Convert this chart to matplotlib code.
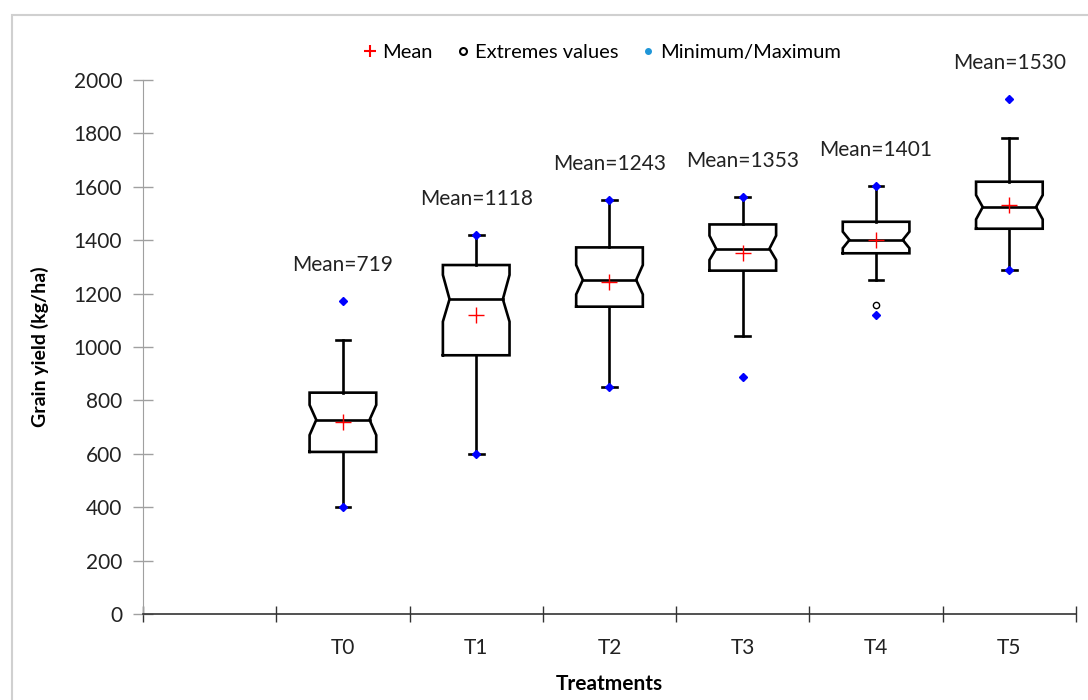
import matplotlib.pyplot as plt
from matplotlib.lines import Line2D
from matplotlib.patches import Rectangle

plt.rcParams['font.family'] = ['Lato', 'DejaVu Sans']

# Valeurs (kg/ha)
treatments = ['T0', 'T1', 'T2', 'T3', 'T4', 'T5']
means = [719, 1118, 1243, 1353, 1401, 1530]
q1 = [607, 969, 1151, 1286, 1351, 1443]
medians = [727, 1179, 1251, 1368, 1401, 1524]
q3 = [829, 1307, 1373, 1459, 1469, 1619]
notch_lo = [670, 1095, 1197, 1326, 1370, 1478]
notch_hi = [783, 1270, 1307, 1417, 1432, 1569]
whisk_lo = [400, 600, 850, 1040, 1251, 1288]
whisk_hi = [1026, 1420, 1550, 1560, 1603, 1784]
minimum = [400, 600, 850, 889, 1120, 1288]
maximum = [1172, 1420, 1550, 1560, 1603, 1928]
extreme_idx = [4]
extreme_val = [1157]

fig = plt.figure(figsize=(10.88, 7), dpi=100)
ax = fig.add_axes([0.1314, 0.1229, 0.8576, 0.7628])

# cadre gris autour de la figure
fig.patches.append(Rectangle((12 / 1088, -0.1), 1.2, 1.1 - 15 / 700, transform=fig.transFigure,
                             fill=False, edgecolor='#d0d0d0', linewidth=1.5))

half_w = 0.25   # demi-largeur de la boite
notch_w = 0.2   # demi-largeur au niveau de la mediane
cap_w = 0.055
lw = 1.9

for i, name in enumerate(treatments):
    x = i + 1.5
    xs = [x - half_w, x + half_w, x + half_w, x + notch_w, x + half_w, x + half_w,
          x - half_w, x - half_w, x - notch_w, x - half_w, x - half_w]
    ys = [q1[i], q1[i], notch_lo[i], medians[i], notch_hi[i], q3[i],
          q3[i], notch_hi[i], medians[i], notch_lo[i], q1[i]]
    ax.plot(xs, ys, color='black', lw=lw, solid_joinstyle='miter', zorder=3)
    ax.plot([x - notch_w, x + notch_w], [medians[i], medians[i]], color='black', lw=lw, zorder=3)
    # moustaches
    ax.plot([x, x], [q3[i], whisk_hi[i]], color='black', lw=lw, zorder=2)
    ax.plot([x, x], [q1[i], whisk_lo[i]], color='black', lw=lw, zorder=2)
    ax.plot([x - cap_w, x + cap_w], [whisk_hi[i], whisk_hi[i]], color='black', lw=lw, zorder=2)
    ax.plot([x - cap_w, x + cap_w], [whisk_lo[i], whisk_lo[i]], color='black', lw=lw, zorder=2)
    # moyenne
    ax.plot(x, means[i], marker='+', color='red', markersize=12, mew=1.0, zorder=4)
    # min / max
    ax.plot([x, x], [minimum[i], maximum[i]], linestyle='none', marker='D', color='blue',
            markersize=4, zorder=5)
    ax.annotate(f'Mean={means[i]}', (x, maximum[i]), xytext=(0, 26), textcoords='offset points',
                ha='center', va='center', fontsize=15, color='#222222')

for k, v in zip(extreme_idx, extreme_val):
    ax.plot(k + 1.5, v, marker='o', mfc='white', mec='black', markersize=4.5, mew=1.0, zorder=5)

ax.set_xlim(0, 7)
ax.set_ylim(0, 2000)
ax.set_yticks(range(0, 2001, 200))
ax.set_xticks(range(0, 8))
ax.set_xticklabels([])
ax.set_xticks([i + 1.5 for i in range(len(treatments))], minor=True)
ax.set_xticklabels(treatments, minor=True)
ax.tick_params(axis='x', which='minor', length=0, labelsize=15, pad=17, labelcolor='#222222')
ax.tick_params(axis='x', which='major', direction='inout', length=12, width=1, color='#333333')
ax.tick_params(axis='y', direction='inout', length=14, width=1, color='#a0a0a0',
               labelsize=15, pad=8, labelcolor='#222222')

for s in ['top', 'right']:
    ax.spines[s].set_visible(False)
ax.spines['left'].set_color('#a0a0a0')
ax.spines['bottom'].set_color('#333333')
ax.spines['bottom'].set_linewidth(1.2)

ax.set_ylabel('Grain yield (kg/ha)', fontsize=14, fontweight='bold', labelpad=18)
ax.set_xlabel('Treatments', fontsize=15, fontweight='bold', labelpad=12)

handles = [
    Line2D([], [], linestyle='none', marker='+', color='red', markersize=9, mew=1.5),
    Line2D([], [], linestyle='none', marker='o', mfc='white', mec='black', markersize=5, mew=1.5),
    Line2D([], [], linestyle='none', marker='o', color='#1f96d8', markersize=4),
]
fig.legend(handles, ['Mean', 'Extremes values', 'Minimum/Maximum'], loc='center',
           bbox_to_anchor=(0.552, 0.925), ncol=3, frameon=False, fontsize=14.5,
           handletextpad=0.1, columnspacing=1.0, handlelength=1.0)

fig.savefig('out.png', dpi=100)
